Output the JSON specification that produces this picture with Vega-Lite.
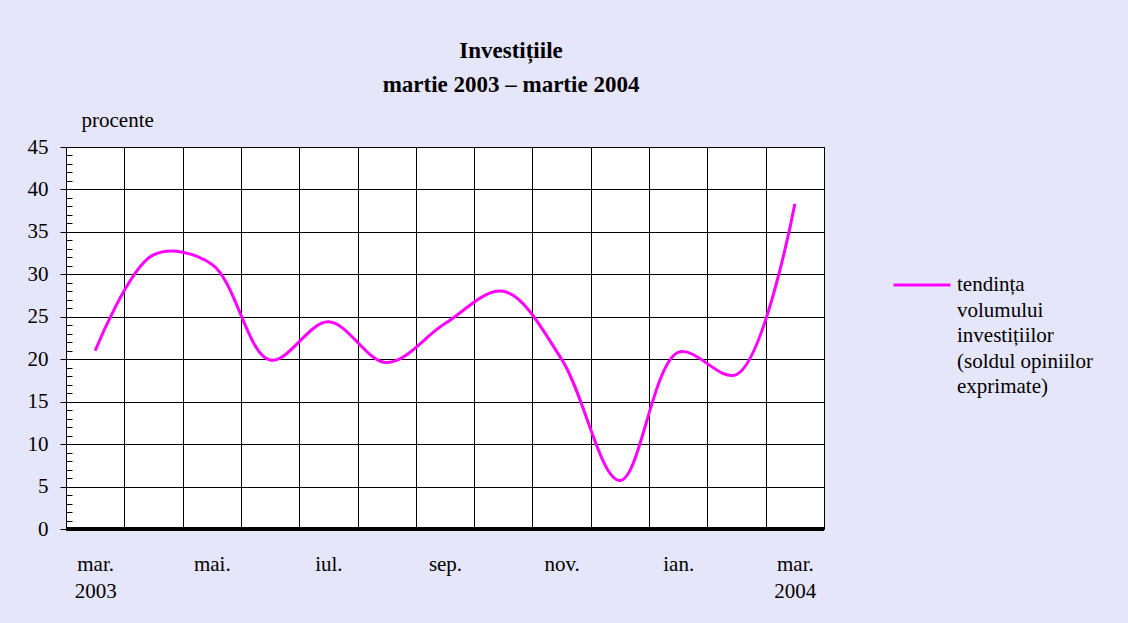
{
  "$schema": "https://vega.github.io/schema/vega-lite/v6.json",
  "width": 758,
  "height": 382,
  "autosize": {"type": "none"},
  "padding": {"left": 66, "top": 147, "right": 304, "bottom": 94},
  "background": "#e6e6fa",
  "title": {
    "text": ["Investițiile", "martie 2003 – martie 2004"],
    "anchor": "middle",
    "frame": "group",
    "dx": 66,
    "fontSize": 23,
    "lineHeight": 34,
    "font": "Liberation Serif",
    "fontWeight": "bold",
    "color": "black",
    "offset": 12
  },
  "data": {
    "values": [
      {"luna": "mar. 2003", "valoare": 21.0, "serie": "tendinta"},
      {"luna": "apr.", "valoare": 32.3, "serie": "tendinta"},
      {"luna": "mai.", "valoare": 31.2, "serie": "tendinta"},
      {"luna": "iun.", "valoare": 19.9, "serie": "tendinta"},
      {"luna": "iul.", "valoare": 24.4, "serie": "tendinta"},
      {"luna": "aug.", "valoare": 19.6, "serie": "tendinta"},
      {"luna": "sep.", "valoare": 24.2, "serie": "tendinta"},
      {"luna": "oct.", "valoare": 28.0, "serie": "tendinta"},
      {"luna": "nov.", "valoare": 20.0, "serie": "tendinta"},
      {"luna": "dec.", "valoare": 5.7, "serie": "tendinta"},
      {"luna": "ian.", "valoare": 20.8, "serie": "tendinta"},
      {"luna": "feb.", "valoare": 18.2, "serie": "tendinta"},
      {"luna": "mar. 2004", "valoare": 38.3, "serie": "tendinta"}
    ]
  },
  "resolve": {"axis": {"y": "independent"}},
  "layer": [
    {
      "mark": {"type": "line", "interpolate": "catmull-rom", "strokeWidth": 3, "color": "#ff00ff"},
      "encoding": {
        "x": {
          "field": "luna",
          "type": "nominal",
          "sort": null,
          "scale": {"type": "band", "paddingInner": 0, "paddingOuter": 0},
          "axis": {
            "title": null,
            "labelAngle": 0,
            "tickSize": 0,
            "tickBand": "extent",
            "grid": true,
            "gridColor": "black",
            "gridWidth": 1,
            "gridOpacity": 1,
            "domain": false,
            "labelPadding": 24,
            "labelFont": "Liberation Serif",
            "labelFontSize": 21,
            "labelColor": "black",
            "labelLineHeight": 27,
            "labelOverlap": false,
            "labelBound": false,
            "labelExpr": "indexof(['mar. 2003','mai.','iul.','sep.','nov.','ian.','mar. 2004'], datum.value) >= 0 ? split(datum.value, ' ') : ''"
          }
        },
        "y": {
          "field": "valoare",
          "type": "quantitative",
          "scale": {"domain": [0, 45], "nice": false},
          "axis": {
            "title": "procente",
            "titleAngle": 0,
            "titleAlign": "left",
            "titleBaseline": "alphabetic",
            "titleX": 15,
            "titleY": -21,
            "titleFont": "Liberation Serif",
            "titleFontSize": 21,
            "titleFontWeight": "normal",
            "titleColor": "black",
            "values": [0, 5, 10, 15, 20, 25, 30, 35, 40, 45],
            "grid": true,
            "gridColor": "black",
            "gridWidth": 1,
            "gridOpacity": 1,
            "domainColor": "black",
            "domainWidth": 1,
            "tickColor": "black",
            "tickSize": 6,
            "labelPadding": 12,
            "labelFont": "Liberation Serif",
            "labelFontSize": 21,
            "labelColor": "black"
          }
        },
        "color": {
          "field": "serie",
          "type": "nominal",
          "scale": {"range": ["#ff00ff"]},
          "legend": {
            "title": null,
            "orient": "none",
            "legendX": 826,
            "legendY": 108,
            "padding": 0,
            "symbolType": "stroke",
            "symbolSize": 3249,
            "symbolStrokeWidth": 3,
            "labelFont": "Liberation Serif",
            "labelFontSize": 21,
            "labelColor": "black",
            "labelOffset": 5,
            "labelLimit": 300,
            "labelBaseline": "middle",
            "labelExpr": "['tendința','volumului','investițiilor','(soldul opiniilor','exprimate)']",
            "encode": {"labels": {"update": {"lineHeight": {"value": 25.5}}}}
          }
        }
      }
    },
    {
      "mark": {"type": "rule", "color": "black", "strokeWidth": 3},
      "encoding": {
        "y": {
          "datum": 0,
          "type": "quantitative",
          "axis": {
            "orient": "left",
            "title": null,
            "labels": false,
            "grid": false,
            "domain": false,
            "values": [1,2,3,4,6,7,8,9,11,12,13,14,16,17,18,19,21,22,23,24,26,27,28,29,31,32,33,34,36,37,38,39,41,42,43,44],
            "tickColor": "black",
            "tickSize": -6
          }
        }
      }
    }
  ],
  "config": {
    "view": {"stroke": "black", "strokeWidth": 1, "fill": "white"}
  }
}
